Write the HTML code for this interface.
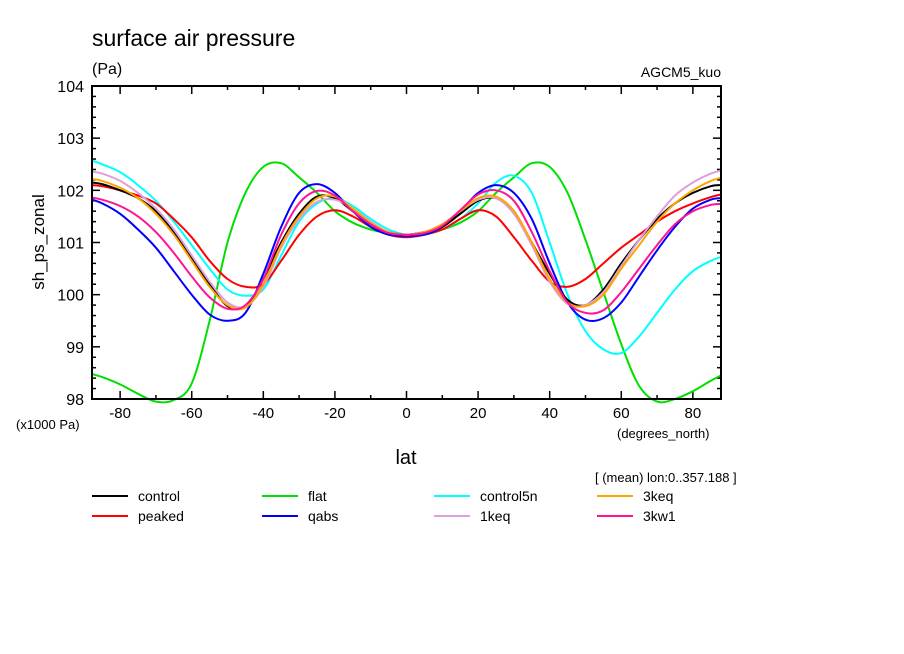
<!DOCTYPE html>
<html><head><meta charset="utf-8"><style>
html,body{margin:0;padding:0;background:#fff;}
svg{display:block;font-family:"Liberation Sans",sans-serif;}
</style></head><body>
<svg id="chart" width="904" height="654" viewBox="0 0 904 654">
<text x="92" y="46" font-size="23">surface air pressure</text>
<text x="92" y="74" font-size="16">(Pa)</text>
<text x="721" y="77" font-size="14" text-anchor="end">AGCM5_kuo</text>
<g id="axes"></g>
<g id="series"></g>
<rect x="92" y="86" width="629" height="313" fill="none" stroke="#000" stroke-width="2"/>
<text x="16" y="429" font-size="13">(x1000 Pa)</text>
<text x="617" y="438" font-size="13">(degrees_north)</text>
<text x="406" y="464" font-size="20" text-anchor="middle">lat</text>
<text x="44" y="242" font-size="17" text-anchor="middle" transform="rotate(-90 44 242)">sh_ps_zonal</text>
<text x="595" y="482" font-size="13">[ (mean) lon:0..357.188 ]</text>
<g id="legend"></g>
</svg>
<script>
const lats=[-87.86,-85,-80,-75,-70,-65,-60,-55,-50,-45,-40,-35,-30,-25,-20,-15,-10,-5,0,5,10,15,20,25,30,35,40,45,50,55,60,65,70,75,80,85,87.86];
const seriesNames=["control","peaked","flat","qabs","control5n","1keq","3keq","3kw1"];
const seriesColors=["#000000","#ff0000","#00e000","#0000ff","#00ffff","#dda0dd","#ffa500","#ff1493"];
const control=[102.15,102.12,102.0,101.85,101.6,101.2,100.7,100.2,99.78,99.78,100.3,101.0,101.55,101.88,101.85,101.6,101.35,101.2,101.15,101.2,101.3,101.55,101.8,101.85,101.6,101.0,100.4,99.9,99.8,100.1,100.6,101.05,101.45,101.75,101.95,102.08,102.1];
const peaked=[102.1,102.08,102.0,101.9,101.75,101.45,101.1,100.65,100.3,100.15,100.2,100.65,101.15,101.5,101.62,101.5,101.3,101.15,101.1,101.15,101.25,101.45,101.62,101.5,101.1,100.65,100.25,100.15,100.3,100.6,100.9,101.15,101.4,101.6,101.75,101.87,101.92];
const flat=[98.48,98.42,98.28,98.1,97.95,97.98,98.3,99.5,101.0,101.95,102.45,102.52,102.25,101.95,101.6,101.38,101.25,101.18,101.15,101.18,101.25,101.38,101.6,101.95,102.25,102.52,102.45,101.95,101.05,100.05,99.05,98.25,97.95,98.0,98.15,98.35,98.45];
const qabs=[101.82,101.75,101.55,101.25,100.9,100.45,100.0,99.62,99.5,99.65,100.4,101.3,101.95,102.12,101.95,101.6,101.3,101.15,101.12,101.15,101.3,101.6,101.95,102.1,101.95,101.45,100.6,99.85,99.52,99.55,99.85,100.35,100.85,101.3,101.65,101.82,101.85];
const control5n=[102.57,102.5,102.35,102.1,101.8,101.4,100.95,100.5,100.1,99.98,100.1,100.75,101.4,101.75,101.85,101.7,101.45,101.25,101.15,101.15,101.25,101.45,101.75,102.15,102.28,101.95,101.0,100.0,99.3,98.95,98.88,99.2,99.65,100.1,100.45,100.65,100.72];
const keq1=[102.36,102.32,102.18,101.95,101.65,101.25,100.75,100.25,99.85,99.77,100.15,100.9,101.45,101.78,101.82,101.65,101.4,101.2,101.15,101.2,101.35,101.6,101.82,101.85,101.55,100.95,100.25,99.82,99.8,100.05,100.55,101.05,101.5,101.9,102.15,102.32,102.38];
const keq3=[102.22,102.18,102.05,101.85,101.55,101.15,100.65,100.15,99.8,99.75,100.2,100.95,101.5,101.85,101.88,101.65,101.38,101.2,101.15,101.2,101.35,101.6,101.85,101.88,101.6,101.0,100.3,99.85,99.78,100.0,100.5,100.95,101.4,101.75,102.0,102.18,102.24];
const kw13=[101.86,101.82,101.7,101.5,101.2,100.8,100.35,99.95,99.73,99.8,100.3,101.15,101.75,101.99,101.9,101.6,101.35,101.18,101.15,101.18,101.32,101.62,101.92,102.0,101.8,101.2,100.45,99.85,99.65,99.7,100.05,100.5,100.95,101.35,101.6,101.72,101.74];
const seriesValues=[control,peaked,flat,qabs,control5n,keq1,keq3,kw13];
const drawOrder=[2,4,1,3,0,5,6,7];
const yTicks=[98,99,100,101,102,103,104];
const xTicks=[-80,-60,-40,-20,0,20,40,60,80];

const NS="http://www.w3.org/2000/svg";
const X0=92,X1=721,Y0=86,Y1=399,LMIN=-87.86,LMAX=87.86,VMIN=98,VMAX=104;
const xs=l=>X0+(l-LMIN)/(LMAX-LMIN)*(X1-X0);
const ys=v=>Y1-(v-VMIN)/(VMAX-VMIN)*(Y1-Y0);
function mk(tag,attrs,parent){const e=document.createElementNS(NS,tag);for(const k in attrs)e.setAttribute(k,attrs[k]);parent.appendChild(e);return e;}
const axes=document.getElementById('axes');
for(let v=98;v<=104.001;v+=0.2){
  const y=ys(v);const major=Math.abs(v-Math.round(v))<0.01;const len=major?8:4;
  const t1=mk('line',{x1:X0,x2:X0+len,y1:y,y2:y,stroke:'#000','stroke-width':1.5},axes);
  
  
  const t2=mk('line',{x1:X1,x2:X1-len,y1:y,y2:y,stroke:'#000','stroke-width':1.5},axes);
  
  
}
yTicks.forEach(v=>{
  const t=mk('text',{x:84,y:ys(v)+6,'font-size':16,'text-anchor':'end'},axes);t.textContent=v;
  
  
});
for(let l=-80;l<=80;l+=10){
  const x=xs(l);const major=l%20===0;const len=major?8:4;
  const t1=mk('line',{x1:x,x2:x,y1:Y1,y2:Y1-len,stroke:'#000','stroke-width':1.5},axes);
  
  
  const t2=mk('line',{x1:x,x2:x,y1:Y0,y2:Y0+len,stroke:'#000','stroke-width':1.5},axes);
  
  
}
xTicks.forEach(l=>{
  const t=mk('text',{x:xs(l),y:418,'font-size':15,'text-anchor':'middle'},axes);t.textContent=l;
  
  
});
const sg=document.getElementById('series');
function pathFor(vals){
  const p=lats.map((l,i)=>[xs(l),ys(vals[i])]);
  let d='M'+p[0][0].toFixed(1)+','+p[0][1].toFixed(1);
  for(let i=0;i<p.length-1;i++){
    const a=p[Math.max(0,i-1)],b=p[i],c=p[i+1],e=p[Math.min(p.length-1,i+2)];
    const c1=[b[0]+(c[0]-a[0])/6,b[1]+(c[1]-a[1])/6],c2=[c[0]-(e[0]-b[0])/6,c[1]-(e[1]-b[1])/6];
    d+=' C'+c1[0].toFixed(1)+','+c1[1].toFixed(1)+' '+c2[0].toFixed(1)+','+c2[1].toFixed(1)+' '+c[0].toFixed(1)+','+c[1].toFixed(1);
  }
  return d;
}
drawOrder.forEach(i=>{
  const p=mk('path',{d:pathFor(seriesValues[i]),fill:'none',stroke:seriesColors[i],'stroke-width':2},sg);
  
  
});
const lg=document.getElementById('legend');
const colX=[92,262,434,597];
const legendOrder=[0,2,4,6,1,3,5,7];
legendOrder.forEach((si,k)=>{
  const col=k%4,row=Math.floor(k/4);const y=496+row*20;const x=colX[col];
  const g=mk('g',{},lg);
  
  
  mk('line',{x1:x,x2:x+36,y1:y,y2:y,stroke:seriesColors[si],'stroke-width':2},g);
  const t=mk('text',{x:x+46,y:y+5,'font-size':14},g);t.textContent=seriesNames[si];
});
</script>
</body></html>
